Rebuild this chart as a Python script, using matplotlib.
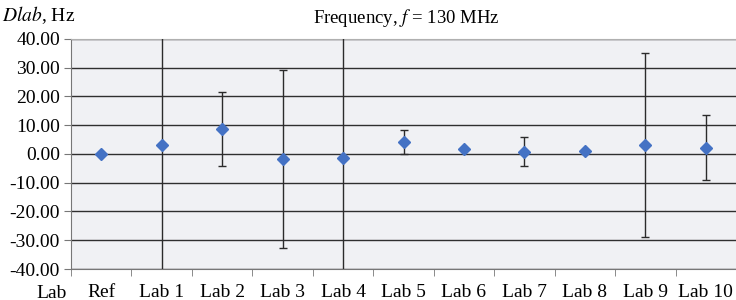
import numpy as np
import matplotlib.pyplot as plt

# data
labs = ["Ref", "Lab 1", "Lab 2", "Lab 3", "Lab 4", "Lab 5",
        "Lab 6", "Lab 7", "Lab 8", "Lab 9", "Lab 10"]
dlab = [0.0, 3.3, 8.7, -1.8, -1.5, 4.2, 1.6, 0.8, 1.0, 3.3, 2.2]
err = [0.0, 60.0, 12.8, 30.9, 60.0, 4.2, 0.0, 5.0, 0.0, 32.0, 11.3]
yticks = [-40, -30, -20, -10, 0, 10, 20, 30, 40]

plt.rcParams['font.family'] = ['Liberation Serif', 'DejaVu Serif']
plt.rcParams['mathtext.fontset'] = 'stix'

fig = plt.figure(figsize=(7.36, 3.0), dpi=100)
ax = fig.add_axes([71 / 736, 1 - 269 / 300, 665 / 736, 230 / 300])
ax.set_facecolor('#f0f1f4')

x = np.arange(len(labs))
ax.errorbar(x, dlab, yerr=err, fmt='D', color='#4472c4', ms=6.5,
            ecolor='#2b2b2b', elinewidth=1.0, capsize=3, capthick=1.0, zorder=3)

ax.set_xlim(-0.5, len(labs) - 0.5)
ax.set_ylim(-40, 40)
ax.set_yticks(yticks)
ax.set_yticklabels([f"{v:.2f}" for v in yticks], fontsize=14)
ax.yaxis.grid(True, color='#2f2f2f', lw=1.0)
ax.set_axisbelow(True)

ax.set_xticks(x)
ax.set_xticklabels(labs, fontsize=14)
ax.tick_params(axis='x', which='major', length=0, pad=11)
ax.set_xticks(np.arange(-0.5, len(labs)), minor=True)
ax.tick_params(axis='x', which='minor', length=5, color='#777777')
ax.tick_params(axis='y', length=5, color='#777777', pad=3)

for s in ['left', 'bottom']:
    ax.spines[s].set_color('#777777')
ax.spines['top'].set_color('#b0b0b0')
ax.spines['right'].set_visible(False)

fig.text(52 / 736, 1 - 293 / 300, "Lab", fontsize=14, ha='center', va='center')
fig.text(2 / 736, 1 - 15 / 300, "$\\it{Dlab}$, Hz", fontsize=14, ha='left', va='center')
fig.text(406 / 736, 1 - 18 / 300, "Frequency, $\\it{f}$ = 130 MHz",
         fontsize=13.5, ha='center', va='center')

fig.savefig("out.png", dpi=100)
